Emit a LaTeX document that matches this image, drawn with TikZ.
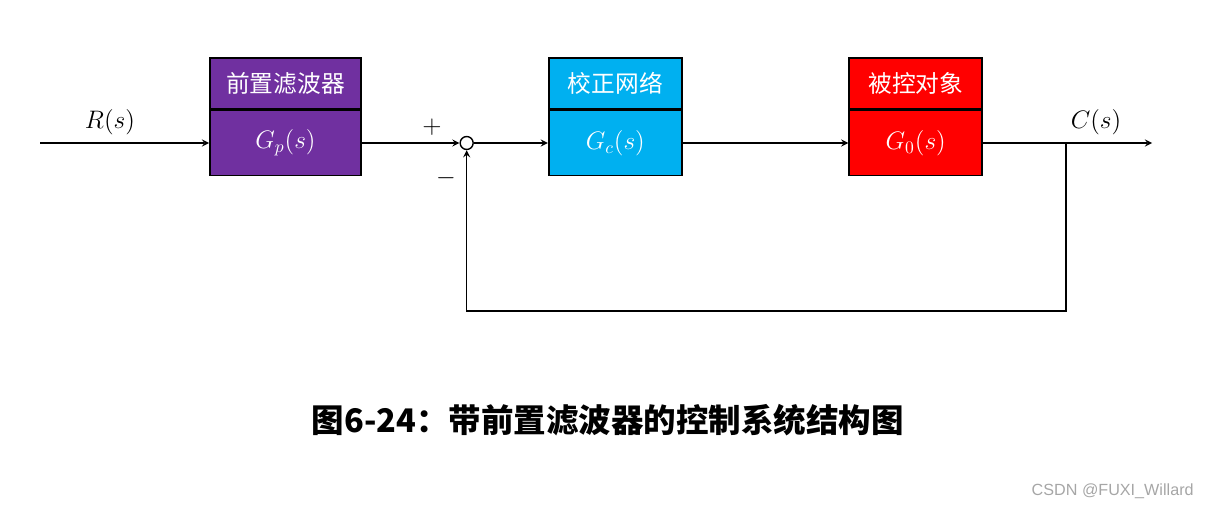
\documentclass[tikz,border=0pt]{standalone}
\usepackage{fontspec}
\usepackage{xcolor}
\usepackage{tikz}
\usetikzlibrary{arrows, positioning, calc}
\newfontfamily\cjk{Noto Sans CJK SC}
\newfontfamily\wmfont{Liberation Sans}
\definecolor{filterpurple}{RGB}{112, 48, 160}
\definecolor{netblue}{RGB}{0, 176, 240}
\definecolor{plantred}{RGB}{255, 0, 0}
\tikzset{
    namebox/.style={rectangle, draw=black, line width=1.1pt, inner sep=0pt, minimum height=1.02cm, text=white, font=\cjk\fontsize{13.5}{16}\selectfont},
    tfbox/.style={rectangle, draw=black, line width=1.1pt, inner sep=0pt, minimum height=1.3cm, text=white, font=\fontsize{14}{17}\selectfont},
    sumpoint/.style={circle, draw=black, line width=0.8pt, fill=white, inner sep=0pt, minimum size=0.26cm},
    signal/.style={font=\fontsize{14}{17}\selectfont},
    arrow/.style={line width=0.8pt, ->, >=stealth}
}
\begin{document}
\begin{tikzpicture}
    \useasboundingbox (0,0) rectangle (24.18,10.18);
    \node (gp) [tfbox, fill=filterpurple, minimum width=3.02cm] at (5.71,7.32) {$G_p(s)$};
    \node (filter) [namebox, fill=filterpurple, minimum width=3.02cm, above=0pt of gp] {前置滤波器};
    \node (sum) [sumpoint, right=1.95cm of gp] {};
    \node (gc) [tfbox, fill=netblue, minimum width=2.66cm, right=1.48cm of sum] {$G_c(s)$};
    \node (corr) [namebox, fill=netblue, minimum width=2.66cm, above=0pt of gc] {校正网络};
    \node (g0) [tfbox, fill=plantred, minimum width=2.66cm, right=3.31cm of gc] {$G_0(s)$};
    \node (plant) [namebox, fill=plantred, minimum width=2.66cm, above=0pt of g0] {被控对象};
    \coordinate (in) at (0.8,7.32);
    \coordinate (out) at (23.04,7.32);
    \coordinate (branch) at (21.32,7.32);
    \coordinate (fbcorner) at (21.32,3.96);

    % signal labels
    \node (rlabel) [signal] at (2.2,7.74) {$R(s)$};
    \node (clabel) [signal] at (21.92,7.74) {$C(s)$};
    \node (plus) [signal] at (8.64,7.64) {$+$};
    \node (minus) [signal] at (8.92,6.62) {$-$};

    \draw [arrow] (in) -- (gp);
    \draw [arrow] (gp) -- (sum);
    \draw [arrow] (sum) -- (gc);
    \draw [arrow] (gc) -- (g0);
    \draw [arrow] (g0) -- (out);
    \draw [arrow] (branch) -- (fbcorner) -| (sum);

    \node (caption) [font=\cjk\bfseries\fontsize{18.5}{22}\selectfont] at (12.16,1.78) {图6-24：带前置滤波器的控制系统结构图};
    \node (mark) [anchor=east, inner sep=0pt, text=gray!70, font=\wmfont\fontsize{9.2}{11}\selectfont] at (23.88,0.36) {CSDN @FUXI\_Willard};
\end{tikzpicture}
\end{document}
